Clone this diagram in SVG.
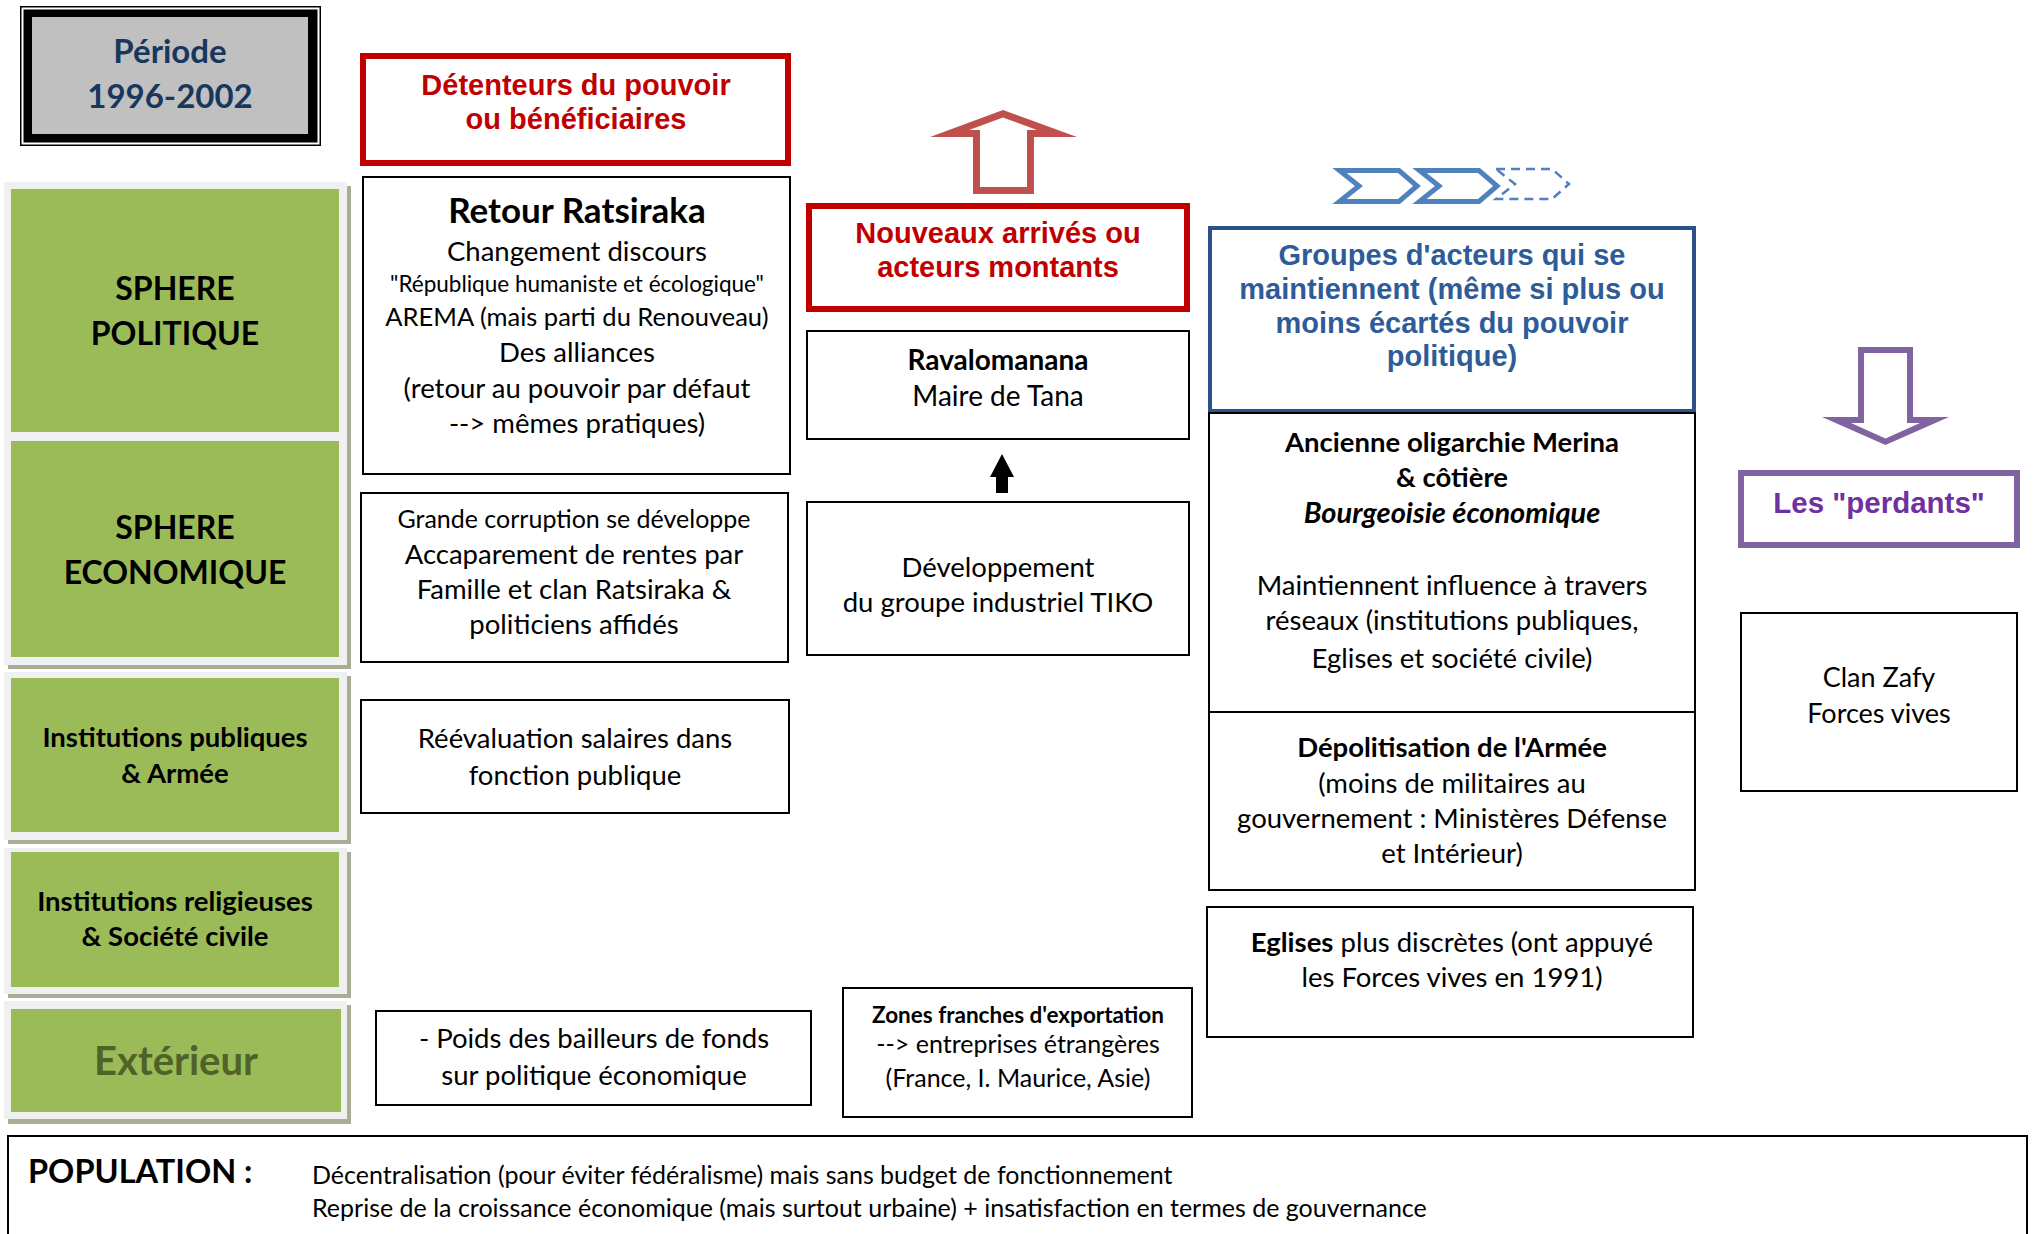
<svg xmlns="http://www.w3.org/2000/svg" width="2033" height="1234" viewBox="0 0 2033 1234">
<style>
.c{font-family:Lato,"Open Sans",sans-serif;text-anchor:middle;fill:#000}
.b{font-weight:bold}
.a{font-family:"Liberation Sans",Arial,sans-serif;font-weight:bold;text-anchor:middle}
.box{fill:#fff;stroke:#000;stroke-width:2}
.sh{fill:#a9ad96}
.fr{fill:#f0f0f0}
.gr{fill:#9bbb59}
.lbl{font-family:Lato,"Open Sans",sans-serif;font-weight:bold;text-anchor:middle;fill:#000}
</style>
<rect width="2033" height="1234" fill="#fff"/>

<g id="periode">
<rect x="20" y="6" width="301" height="140" fill="#000"/>
<rect x="21.5" y="7.5" width="298" height="137" fill="#fff"/>
<rect x="23.5" y="9.5" width="294" height="133" fill="#000"/>
<rect x="32" y="17" width="276" height="117" fill="#c0c0c0"/>
<text class="lbl" x="170" y="63" font-size="33" style="fill:#17375e">Période</text>
<text class="lbl" x="170" y="108" font-size="33" style="fill:#17375e">1996-2002</text>
</g>

<g id="sphere-politique">
<rect class="sh" x="8" y="186" width="343" height="255"/>
<rect class="fr" x="4" y="182" width="343" height="255"/>
<rect class="gr" x="11" y="189" width="328" height="243"/>
<text class="lbl" x="175" y="300" font-size="32">SPHERE</text>
<text class="lbl" x="175" y="345" font-size="32">POLITIQUE</text>
</g>
<g id="sphere-economique">
<rect class="sh" x="8" y="440" width="343" height="229"/>
<rect class="fr" x="4" y="436" width="343" height="229"/>
<rect class="gr" x="11" y="441" width="328" height="216"/>
<text class="lbl" x="175" y="539" font-size="32">SPHERE</text>
<text class="lbl" x="175" y="584" font-size="32">ECONOMIQUE</text>
</g>
<g id="institutions-publiques">
<rect class="sh" x="8" y="676" width="343" height="168"/>
<rect class="fr" x="4" y="672" width="343" height="168"/>
<rect class="gr" x="11" y="678" width="328" height="154"/>
<text class="lbl" x="175" y="747" font-size="27.5">Institutions publiques</text>
<text class="lbl" x="175" y="783" font-size="27.5">&amp; Armée</text>
</g>
<g id="institutions-religieuses">
<rect class="sh" x="8" y="852" width="343" height="146"/>
<rect class="fr" x="4" y="848" width="343" height="146"/>
<rect class="gr" x="11" y="852" width="328" height="135"/>
<text class="lbl" x="175" y="911" font-size="27.5">Institutions religieuses</text>
<text class="lbl" x="175" y="946" font-size="27.5">&amp; Société civile</text>
</g>
<g id="exterieur">
<rect class="sh" x="8" y="1005" width="343" height="119"/>
<rect class="fr" x="4" y="1001" width="343" height="118"/>
<rect class="gr" x="11" y="1009" width="330" height="103"/>
<text class="lbl" x="176" y="1075" font-size="40" style="fill:#4f6228">Extérieur</text>
</g>

<g id="detenteurs">
<rect x="363" y="56" width="425" height="107" fill="#fff" stroke="#c00000" stroke-width="6"/>
<text class="a" x="576" y="95" font-size="29" fill="#c00000">Détenteurs du pouvoir</text>
<text class="a" x="576" y="129" font-size="29" fill="#c00000">ou bénéficiaires</text>
</g>
<g id="retour-ratsiraka">
<rect class="box" x="363" y="177" width="427" height="297"/>
<text class="c b" x="577" y="223" font-size="35">Retour Ratsiraka</text>
<text class="c" x="577" y="261" font-size="27.5">Changement discours</text>
<text class="c" x="577" y="292" font-size="22.5">"République humaniste et écologique"</text>
<text class="c" x="577" y="326" font-size="25.5">AREMA (mais parti du Renouveau)</text>
<text class="c" x="577" y="362" font-size="27.5">Des alliances</text>
<text class="c" x="577" y="398" font-size="27.5">(retour au pouvoir par défaut</text>
<text class="c" x="577" y="433" font-size="27.5">--&gt; mêmes pratiques)</text>
</g>
<g id="grande-corruption">
<rect class="box" x="361" y="493" width="427" height="169"/>
<text class="c" x="574" y="528" font-size="25">Grande corruption se développe</text>
<text class="c" x="574" y="564" font-size="27.5">Accaparement de rentes par</text>
<text class="c" x="574" y="599" font-size="27.5">Famille et clan Ratsiraka &amp;</text>
<text class="c" x="574" y="634" font-size="27.5">politiciens affidés</text>
</g>
<g id="reevaluation">
<rect class="box" x="361" y="700" width="428" height="113"/>
<text class="c" x="575" y="748" font-size="27.5">Réévaluation salaires dans</text>
<text class="c" x="575" y="785" font-size="27.5">fonction publique</text>
</g>
<g id="bailleurs">
<rect class="box" x="376" y="1011" width="435" height="94"/>
<text class="c" x="594" y="1048" font-size="27.5">- Poids des bailleurs de fonds</text>
<text class="c" x="594" y="1085" font-size="27.5">sur politique économique</text>
</g>

<g id="nouveaux">
<rect x="809" y="206" width="378" height="103" fill="#fff" stroke="#c00000" stroke-width="6"/>
<text class="a" x="998" y="243" font-size="29" fill="#c00000">Nouveaux arrivés ou</text>
<text class="a" x="998" y="277" font-size="29" fill="#c00000">acteurs montants</text>
</g>
<g id="ravalomanana">
<rect class="box" x="807" y="331" width="382" height="108"/>
<text class="c b" x="998" y="370" font-size="28">Ravalomanana</text>
<text class="c" x="998" y="406" font-size="28">Maire de Tana</text>
</g>
<g id="tiko">
<rect class="box" x="807" y="502" width="382" height="153"/>
<text class="c" x="998" y="577" font-size="27.5">Développement</text>
<text class="c" x="998" y="612" font-size="27.5">du groupe industriel TIKO</text>
</g>
<g id="zones-franches">
<rect class="box" x="843" y="988" width="349" height="129"/>
<text class="c b" x="1018" y="1023" font-size="22.5">Zones franches d'exportation</text>
<text class="c" x="1018" y="1053" font-size="25">--&gt; entreprises étrangères</text>
<text class="c" x="1018" y="1087" font-size="25">(France, I. Maurice, Asie)</text>
</g>

<g id="groupes">
<rect x="1210" y="228" width="484" height="183" fill="#fff" stroke="#2d528b" stroke-width="4"/>
<text class="a" x="1452" y="265" font-size="29" fill="#2e5c99">Groupes d'acteurs qui se</text>
<text class="a" x="1452" y="299" font-size="29" fill="#2e5c99">maintiennent (même si plus ou</text>
<text class="a" x="1452" y="333" font-size="29" fill="#2e5c99">moins écartés du pouvoir</text>
<text class="a" x="1452" y="366" font-size="29" fill="#2e5c99">politique)</text>
</g>
<g id="oligarchie">
<rect class="box" x="1209" y="413" width="486" height="299"/>
<text class="c b" x="1452" y="452" font-size="27.5">Ancienne oligarchie Merina</text>
<text class="c b" x="1452" y="487" font-size="27.5">&amp; côtière</text>
<text class="c b" x="1452" y="523" font-size="29" font-style="italic">Bourgeoisie économique</text>
<text class="c" x="1452" y="595" font-size="27.5">Maintiennent influence à travers</text>
<text class="c" x="1452" y="630" font-size="27.5">réseaux (institutions publiques,</text>
<text class="c" x="1452" y="668" font-size="27.5">Eglises et société civile)</text>
</g>
<g id="depolitisation">
<rect class="box" x="1209" y="712" width="486" height="178"/>
<text class="c b" x="1452" y="757" font-size="27.5">Dépolitisation de l'Armée</text>
<text class="c" x="1452" y="793" font-size="27.5">(moins de militaires au</text>
<text class="c" x="1452" y="828" font-size="27.5">gouvernement : Ministères Défense</text>
<text class="c" x="1452" y="863" font-size="27.5">et Intérieur)</text>
</g>
<g id="eglises">
<rect class="box" x="1207" y="907" width="486" height="130"/>
<text class="c" x="1452" y="952" font-size="27.5"><tspan font-weight="bold">Eglises</tspan> plus discrètes (ont appuyé</text>
<text class="c" x="1452" y="987" font-size="27.5">les Forces vives en 1991)</text>
</g>

<g id="perdants">
<rect x="1741" y="473" width="276" height="72" fill="#fff" stroke="#8064a2" stroke-width="6"/>
<text class="a" x="1879" y="513" font-size="29.5" fill="#7030a0">Les "perdants"</text>
</g>
<g id="clan-zafy">
<rect class="box" x="1741" y="613" width="276" height="178"/>
<text class="c" x="1879" y="687" font-size="27">Clan Zafy</text>
<text class="c" x="1879" y="723" font-size="27">Forces vives</text>
</g>

<g id="population">
<rect class="box" x="8" y="1136" width="2019" height="130" stroke-width="2.5"/>
<text x="28" y="1183" font-family="Lato, sans-serif" font-weight="bold" font-size="32.5">POPULATION :</text>
<text x="312" y="1184" font-family="Lato, sans-serif" font-size="25">Décentralisation (pour éviter fédéralisme) mais sans budget de fonctionnement</text>
<text x="312" y="1217" font-family="Lato, sans-serif" font-size="25">Reprise de la croissance économique (mais surtout urbaine) + insatisfaction en termes de gouvernance</text>
</g>

<g id="connectors">
<polygon points="1003,110 1077,137 1034,137 1034,194 973,194 973,137 930,137" fill="#c0504d"/>
<polygon points="1003,117.5 1037,130 1027,130 1027,187 980,187 980,130 969,130" fill="#fff"/>
<polygon points="1002,454 1014,477 1008,477 1008,493 996,493 996,477 990,477" fill="#000"/>
<polygon points="1858,347 1913,347 1913,417 1949,417 1885.5,445 1822,417 1858,417" fill="#8064a2"/>
<polygon points="1864,353 1907,353 1907,423 1920,423 1885.5,438.5 1851,423 1864,423" fill="#fff"/>
<polygon points="1339.5,170.5 1399,170.5 1417,186 1399,201.5 1339.5,201.5 1359,186" fill="#fff" stroke="#4f81bd" stroke-width="5"/>
<polygon points="1419.5,170.5 1479,170.5 1497,186 1479,201.5 1419.5,201.5 1439,186" fill="#fff" stroke="#4f81bd" stroke-width="5"/>
<polygon points="1496,169 1552,169 1569,184 1552,199 1496,199 1515,184" fill="none" stroke="#4f81bd" stroke-width="2.5" stroke-dasharray="9,6"/>
</g>
</svg>
